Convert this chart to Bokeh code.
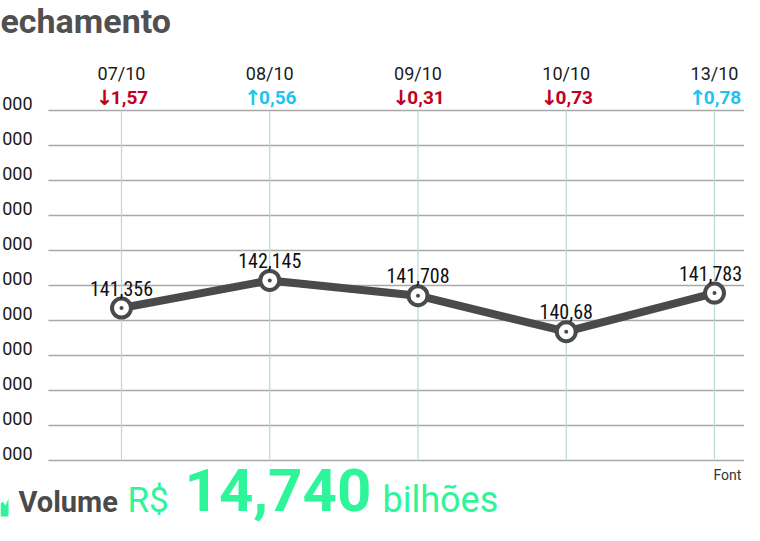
from bokeh.plotting import figure
from bokeh.models import Range1d
from bokeh.core.properties import value
from bokeh.embed import file_html
from bokeh.resources import INLINE

# ---- data ----
dates = ["07/10", "08/10", "09/10", "10/10", "13/10"]
changes = ["1,57", "0,56", "0,31", "0,73", "0,78"]
directions = ["down", "up", "down", "down", "up"]
closes = [141.356, 142.145, 141.708, 140.680, 141.783]
close_labels = ["141,356", "142,145", "141,708", "140,68", "141,783"]
y_ticks = [137, 138, 139, 140, 141, 142, 143, 144, 145, 146, 147]
y_tick_labels = ["000"] * len(y_ticks)
title_text = "echamento"
volume_value = "14,740"
source_text = "Font"

xs = list(range(len(dates)))

LINE_C = "#4a4a4a"
GREEN = "#2ef59a"
RED = "#c4001e"
CYAN = "#1ec3f2"

W, H = 744, 525
X_PX = 148.25          # pixels per category step
Y_PX = 35.0            # pixels per unit (1.000 points)
X0_C = 121             # canvas x of first category
YB_C = 460             # canvas y of lowest tick


def cx(c):
    """canvas x pixel -> data x"""
    return (c - X0_C) / X_PX


def cy(c):
    """canvas y pixel -> data y"""
    return y_ticks[0] + (YB_C - c) / Y_PX


p = figure(width=W, height=H, output_backend="svg", toolbar_location=None,
           x_range=Range1d(cx(0), cx(W)), y_range=Range1d(cy(H), cy(0)),
           min_border=0)
p.outline_line_color = None
p.background_fill_color = "white"
p.border_fill_color = "white"
p.axis.visible = False
p.grid.visible = False

grid_left = cx(48)
grid_right = cx(W)

# horizontal grid lines
p.segment(x0=[grid_left] * len(y_ticks), y0=y_ticks, x1=[grid_right] * len(y_ticks), y1=y_ticks,
          line_color="#a8a8a8", line_width=1.3)
# y tick labels (sit just above their line)
tick_lift = 7 / Y_PX
p.text(x=[cx(32)] * len(y_ticks), y=[t + tick_lift for t in y_ticks], text=y_tick_labels,
       text_align="right", text_baseline="middle", text_font=value("Roboto"),
       text_font_size="18px", text_color="#1a1a1a")

# vertical guides at each date
p.segment(x0=xs, y0=[y_ticks[0]] * len(xs), x1=xs, y1=[y_ticks[-1]] * len(xs),
          line_color="#b9d9d5", line_width=1.2)

# date row and change row
p.text(x=xs, y=[cy(73)] * len(xs), text=dates, text_align="center", text_baseline="middle",
       text_font=value("Roboto"), text_font_size="18px", text_color="#1a1a1a")
arrow_txt = ["\u2193" if d == "down" else "\u2191" for d in directions]
arrow_col = [RED if d == "down" else CYAN for d in directions]
p.text(x=xs, y=[cy(97)] * len(xs), text=arrow_txt, x_offset=-17, text_align="center",
       text_baseline="middle", text_font=value("DejaVu Sans"), text_font_style="bold",
       text_font_size="21px", text_color=arrow_col)
p.text(x=xs, y=[cy(97)] * len(xs), text=changes, x_offset=8, text_align="center",
       text_baseline="middle", text_font=value("Roboto"), text_font_style="bold",
       text_font_size="19px", text_color=arrow_col)

# line
p.line(xs, closes, line_color=LINE_C, line_width=8)
p.scatter(xs, closes, size=19, fill_color="white", line_color=LINE_C, line_width=4)
p.scatter(xs, closes, size=4, fill_color=LINE_C, line_color=None)
label_lift = 20 / Y_PX
label_shift = [0, 0, 0, 0, -4]
p.text(x=xs, y=[c + label_lift for c in closes], text=close_labels, x_offset=label_shift,
       text_align="center", text_baseline="middle",
       text_font=value("'Roboto Condensed', 'Noto Sans Condensed', 'Liberation Sans Narrow', 'DejaVu Sans Condensed'"),
       text_font_size="20px", text_color="#111111")

# title
p.text(x=[cx(0)], y=[cy(20)], text=[title_text], text_align="left", text_baseline="middle",
       text_font=value("Roboto"), text_font_style="bold", text_font_size="34px",
       text_color="#505050")

# volume icon fragment
icon_px = [(0, 516), (8, 516), (8, 498), (5, 505), (2, 501), (0, 503)]
p.patch([cx(a) for a, b in icon_px], [cy(b) for a, b in icon_px], fill_color=GREEN, line_color=None)

# volume line
p.text(x=[cx(18)], y=[cy(501)], text=["Volume"], text_baseline="middle",
       text_font=value("Roboto"), text_font_style="bold", text_font_size="29px", text_color="#4a4a4a")
p.text(x=[cx(127)], y=[cy(500)], text=["R$"], text_baseline="middle",
       text_font=value("Roboto"), text_font_size="35px", text_color=GREEN)
p.text(x=[cx(184)], y=[cy(489)], text=[volume_value], text_baseline="middle",
       text_font=value("Roboto"), text_font_style="bold", text_font_size="60px", text_color=GREEN)
p.text(x=[cx(382)], y=[cy(499)], text=["bilhões"], text_baseline="middle",
       text_font=value("Roboto"), text_font_size="36px", text_color=GREEN)
p.text(x=[cx(713)], y=[cy(474)], text=[source_text], text_baseline="middle",
       text_font=value("Roboto"), text_font_size="14px", text_color="#333333")

open("out.html", "w").write(file_html(p, INLINE))
